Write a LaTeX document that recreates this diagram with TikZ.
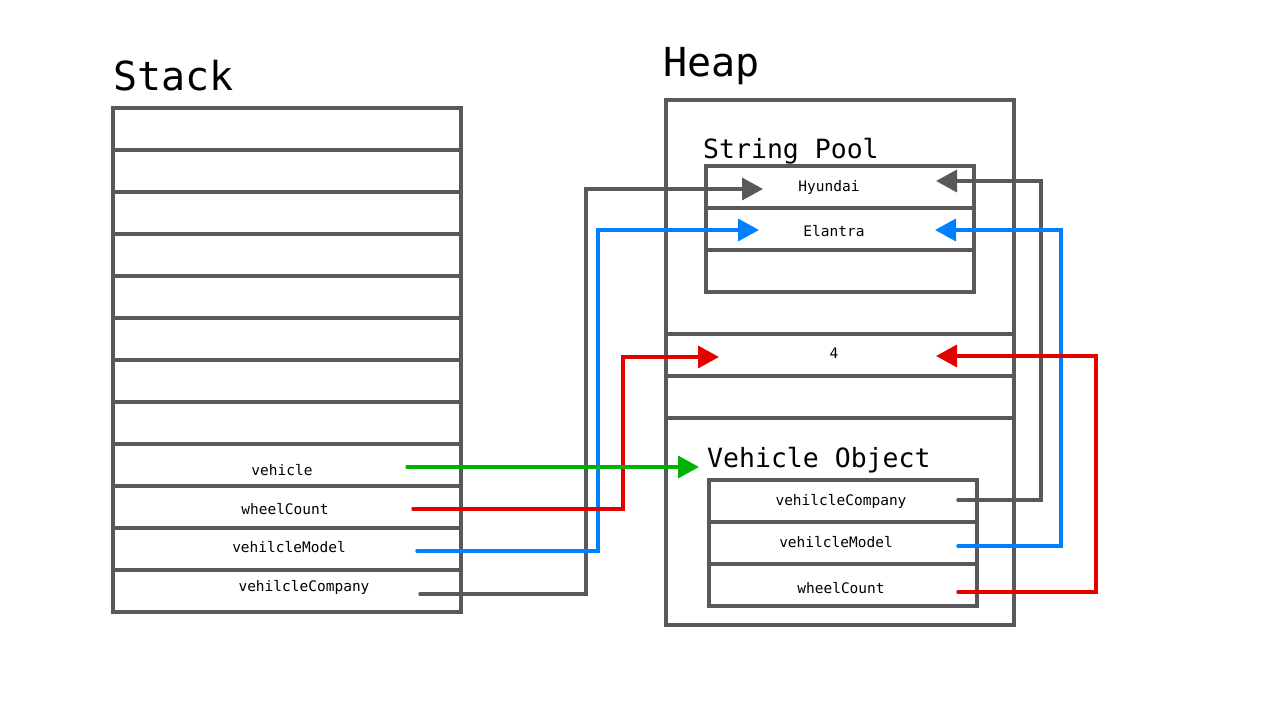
\documentclass[tikz,border=0pt]{standalone}
\usepackage{fontspec}
\setmainfont{DejaVu Sans Mono}
\usetikzlibrary{arrows.meta,positioning}

\definecolor{boxgray}{RGB}{89,89,89}
\definecolor{refblue}{RGB}{0,127,255}
\definecolor{refred}{RGB}{229,0,0}
\definecolor{refgreen}{RGB}{0,178,0}

\tikzset{
	cell/.style={draw=boxgray, line width=4pt, minimum width=348pt, minimum height=42pt, inner sep=0pt, outer sep=0pt},
	smallcell/.style={cell, minimum width=268pt},
	lbl/.style={font=\fontsize{14.5}{16}\selectfont, inner sep=0pt},
	bigtitle/.style={font=\fontsize{40}{44}\selectfont, anchor=base west, inner sep=0pt},
	subtitle/.style={font=\fontsize{26.5}{30}\selectfont, anchor=base west, inner sep=0pt},
	link/.style={line width=3.5pt, -{Triangle[length=21pt,width=22pt]}, line cap=round},
}

\begin{document}
\begin{tikzpicture}[x=1pt,y=-1pt]
	\useasboundingbox (0,0) rectangle (1280,720);
	%\draw[help lines] (0,0) grid[step=40] (1280,720);

	% stack
	\node[bigtitle] (stacktitle) at (113,90) {Stack};
	\foreach \i in {1,...,12}
		\node[cell] (s\i) at (287,{108+42*(\i-0.5)}) {};
	\node[lbl] (lvehicle) at (282,470) {vehicle};
	\node[lbl] (lwheel) at (285,509) {wheelCount};
	\node[lbl] (lmodel) at (289,547) {vehilcleModel};
	\node[lbl] (lcompany) at (304,587) {vehilcleCompany};

	% heap
	\node[bigtitle] (heaptitle) at (663,76) {Heap};
	\node[cell, minimum height=525pt] (heap) at (840,362.5) {};
	\node[cell] (h1) at (840,355) {};
	\node[cell] (h2) at (840,397) {};
	\node[lbl] (four) at (834,353) {4};

	% string pool
	\node[subtitle] (pooltitle) at (703,158) {String Pool};
	\node[smallcell] (p1) at (840,187) {};
	\node[smallcell] (p2) at (840,229) {};
	\node[smallcell] (p3) at (840,271) {};
	\node[lbl] (hyundai) at (829,187) {Hyundai};
	\node[lbl] (elantra) at (834,231) {Elantra};

	% vehicle object
	\node[subtitle] (objtitle) at (707,467) {Vehicle Object};
	\node[smallcell] (o1) at (843,501) {};
	\node[smallcell] (o2) at (843,543) {};
	\node[smallcell] (o3) at (843,585) {};
	\node[lbl] (ocompany) at (841,501) {vehilcleCompany};
	\node[lbl] (omodel) at (836,542) {vehilcleModel};
	\node[lbl] (owheel) at (841,588) {wheelCount};

	% connector ends
	\coordinate (c0) at (420,594);  \coordinate (cb) at (586,189);  \coordinate (c1) at (763,189);
	\coordinate (m0) at (417,551);  \coordinate (mb) at (598,230);  \coordinate (m1) at (759,230);
	\coordinate (w0) at (413,509);  \coordinate (wb) at (623,357);  \coordinate (w1) at (719,357);
	\coordinate (v0) at (407,467);  \coordinate (v1) at (699,467);
	\coordinate (oc0) at (958,500); \coordinate (ocb) at (1041,181); \coordinate (oc1) at (936,181);
	\coordinate (om0) at (958,546); \coordinate (omb) at (1061,230); \coordinate (om1) at (935,230);
	\coordinate (ow0) at (958,592); \coordinate (owb) at (1096,356); \coordinate (ow1) at (936,356);

	\draw[link, boxgray] (c0) -| (cb) -- (c1);
	\draw[link, boxgray] (oc0) -| (ocb) -- (oc1);
	\draw[link, refblue] (m0) -| (mb) -- (m1);
	\draw[link, refblue] (om0) -| (omb) -- (om1);
	\draw[link, refred] (w0) -| (wb) -- (w1);
	\draw[link, refred] (ow0) -| (owb) -- (ow1);
	\draw[link, refgreen] (v0) -- (v1);
\end{tikzpicture}
\end{document}
